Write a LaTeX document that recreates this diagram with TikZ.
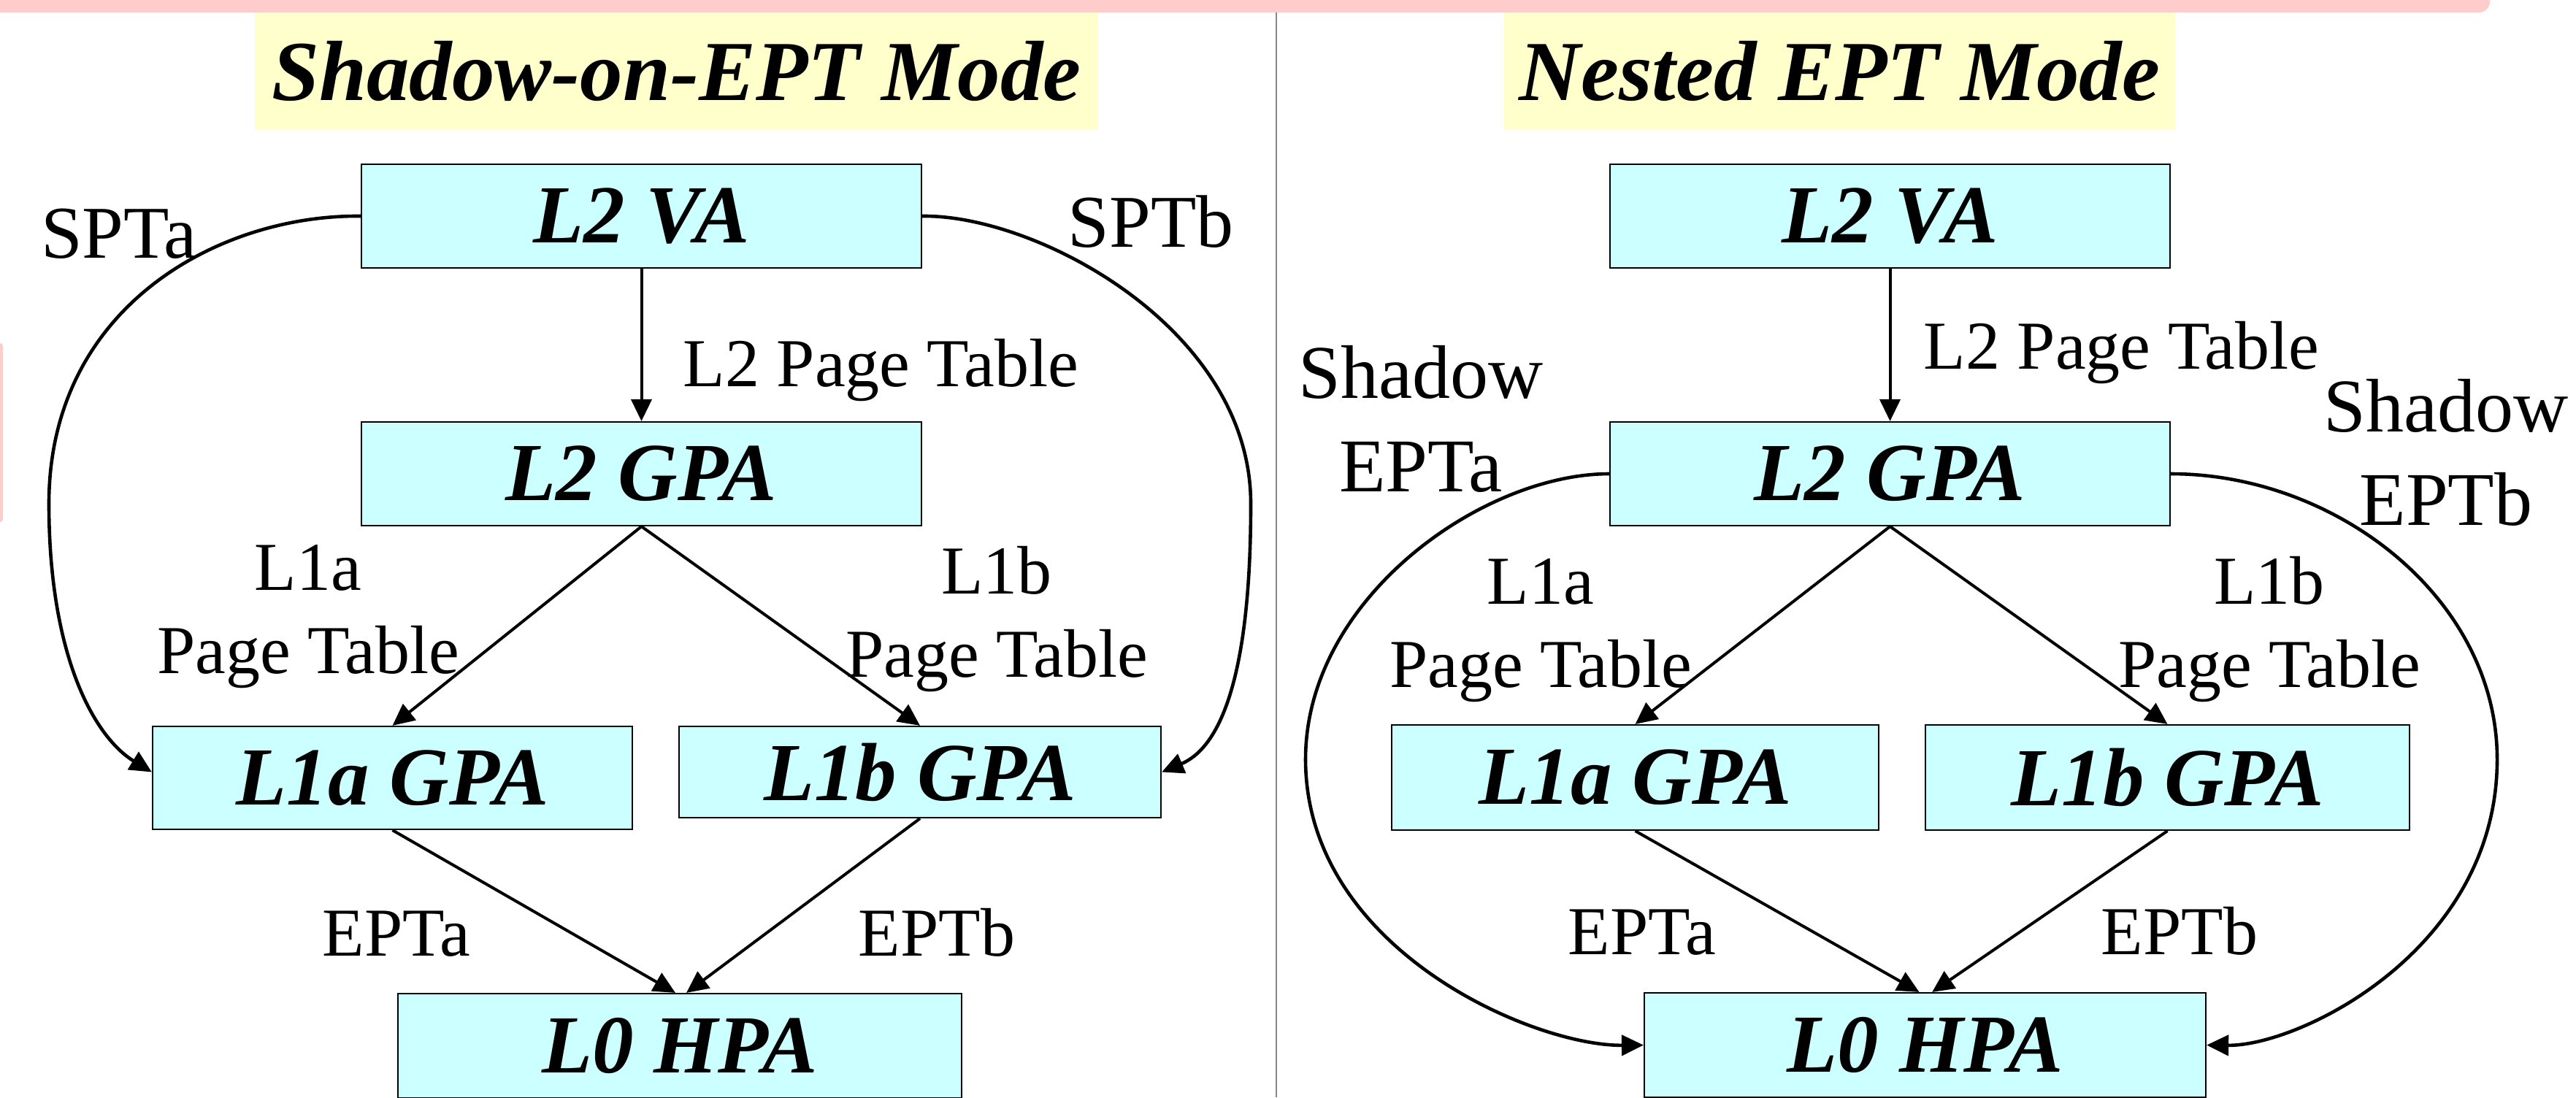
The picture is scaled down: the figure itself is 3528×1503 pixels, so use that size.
\documentclass[tikz,border=0pt]{standalone}
\usepackage{fontspec}
\setmainfont{Liberation Serif}
\usetikzlibrary{arrows.meta}
\definecolor{boxc}{HTML}{CCFFFF}
\definecolor{titlec}{HTML}{FFFFCC}
\definecolor{pinkc}{HTML}{FFCCCC}
\definecolor{sepc}{HTML}{888888}
\begin{document}
\begin{tikzpicture}[x=0.25pt,y=-0.25pt,
  addr/.style={draw=black, line width=0.55pt, fill=boxc, inner sep=0pt,
    font=\fontsize{28.25pt}{34pt}\selectfont\bfseries\itshape},
  wide/.style={minimum width=191.75pt, minimum height=35.5pt},
  ttl/.style={fill=titlec, inner sep=0pt, minimum height=40pt,
    font=\fontsize{29.25pt}{35pt}\selectfont\bfseries\itshape},
  lbl/.style={inner sep=0pt, align=center, font=\fontsize{23.5pt}{28.5pt}\selectfont},
  biglbl/.style={inner sep=0pt, align=center, font=\fontsize{25.5pt}{31pt}\selectfont},
  shlbl/.style={inner sep=0pt, align=center, font=\fontsize{26pt}{32pt}\selectfont},
  arr/.style={-{Triangle[length=7.5pt,width=7pt]}, line width=1pt},
  curv/.style={-{Triangle[length=7.5pt,width=7pt]}, line width=1.15pt}
]
\useasboundingbox (0,0) rectangle (3528,1503);
% decorations of the slide
\fill[pinkc, rounded corners=3.75pt] (-40,-80) rectangle (3410,17);
\fill[pinkc, rounded corners=1pt] (-30,470) rectangle (4,715);
\draw[sepc, line width=0.65pt] (1748,17) -- (1748,1503);

% titles
\node[ttl, minimum width=288.75pt] (t1) at (926.5,97) {Shadow-on-EPT Mode};
\node[ttl, minimum width=229.75pt] (t2) at (2519.5,97) {Nested EPT Mode};

% left: Shadow-on-EPT
\node[addr, wide] (vaL) at (878.5,296) {L2 VA};
\node[addr, wide] (gpaL) at (878.5,649) {L2 GPA};
\node[addr, minimum width=164.25pt, minimum height=35.25pt] (l1aL) at (537.5,1065.5) {L1a GPA};
\node[addr, minimum width=165pt, minimum height=31.25pt] (l1bL) at (1260,1057.5) {L1b GPA};
\node[addr, minimum width=193pt, minimum height=35.75pt] (hpaL) at (931,1432.5) {L0 HPA};

\draw[arr] (vaL) -- (gpaL);
\draw[arr] (gpaL.south) -- (l1aL.north);
\draw[arr] (gpaL.south) -- (l1bL.north);
\draw[arr] (l1aL.south) -- ([xshift=-1.5pt]hpaL.north);
\draw[arr] (l1bL.south) -- ([xshift=2.25pt]hpaL.north);
\draw[curv] (vaL.west) .. controls (300,294) and (67,420) .. (67,690)
   .. controls (67,900) and (130,1010) .. ([yshift=2pt]l1aL.west);
\draw[curv] (vaL.east) .. controls (1420,294) and (1713,450) .. (1713,690)
   .. controls (1713,900) and (1680,1020) .. (l1bL.east);

\node[biglbl, anchor=base] (sptaL) at (163,353) {SPTa};
\node[biglbl, anchor=base] (sptbL) at (1576,338) {SPTb};
\node[lbl, anchor=base west] (l2ptL) at (935,529) {L2 Page Table};
\node[lbl, anchor=base] (l1aptL) at (422,922) {L1a\\Page Table};
\node[lbl, anchor=base] (l1bptL) at (1365,927) {L1b\\Page Table};
\node[lbl, anchor=base] (eptaL) at (543,1309) {EPTa};
\node[lbl, anchor=base] (eptbL) at (1283,1309) {EPTb};

% right: Nested EPT
\node[addr, wide] (vaR) at (2588.5,296) {L2 VA};
\node[addr, wide] (gpaR) at (2588.5,649) {L2 GPA};
\node[addr, minimum width=166.75pt, minimum height=36pt] (l1aR) at (2239.5,1065) {L1a GPA};
\node[addr, minimum width=165.75pt, minimum height=36pt] (l1bR) at (2968.5,1065) {L1b GPA};
\node[addr, minimum width=192.25pt, minimum height=35.75pt] (hpaR) at (2636.5,1431.5) {L0 HPA};

\draw[arr] (vaR) -- (gpaR);
\draw[arr] (gpaR.south) -- (l1aR.north);
\draw[arr] (gpaR.south) -- (l1bR.north);
\draw[arr] (l1aR.south) -- ([xshift=-2pt]hpaR.north);
\draw[arr] (l1bR.south) -- ([xshift=2.4pt]hpaR.north);
\draw[curv] (gpaR.west) .. controls (2030,649) and (1788,820) .. (1788,1040)
   .. controls (1788,1300) and (2100,1433) .. (hpaR.west);
\draw[curv] (gpaR.east) .. controls (3200,649) and (3420,820) .. (3420,1040)
   .. controls (3420,1300) and (3150,1433) .. (hpaR.east);

\node[lbl, anchor=base west] (l2ptR) at (2634,505) {L2 Page Table};
\node[shlbl, anchor=base] (shaR) at (1946,673) {Shadow\\EPTa};
\node[shlbl, anchor=base] (shbR) at (3350,719) {Shadow\\EPTb};
\node[lbl, anchor=base] (l1aptR) at (2110,941) {L1a\\Page Table};
\node[lbl, anchor=base] (l1bptR) at (3108,941) {L1b\\Page Table};
\node[lbl, anchor=base] (eptaR) at (2249,1307) {EPTa};
\node[lbl, anchor=base] (eptbR) at (2985,1307) {EPTb};
\end{tikzpicture}
\end{document}
